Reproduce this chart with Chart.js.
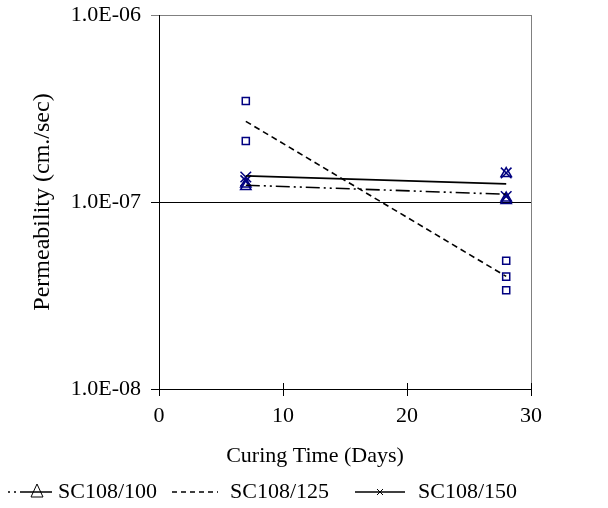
<!DOCTYPE html>
<html>
<head>
<meta charset="utf-8">
<script src="https://cdn.jsdelivr.net/npm/chart.js@4.4.1/dist/chart.umd.min.js"></script>
<style>
  html, body { margin: 0; padding: 0; background: #fff; }
</style>
</head>
<body>
<canvas id="chart" width="608" height="508"></canvas>
<script>
const seriesNames = ['SC108/100', 'SC108/125', 'SC108/150']

// measured points: curing time (days) / permeability (cm/sec)
const sc100Days = [7, 7, 28, 28, 28]
const sc100Perm = [1.25e-7, 1.21e-7, 1.42e-7, 1.05e-7, 1.02e-7]
const sc125Days = [7, 7, 28, 28, 28]
const sc125Perm = [3.47e-7, 2.12e-7, 4.85e-8, 3.99e-8, 3.37e-8]
const sc150Days = [7, 7, 28, 28]
const sc150Perm = [1.36e-7, 1.30e-7, 1.43e-7, 1.07e-7]

// trend line end points
const trendDays = [7, 28]
const trend100 = [1.23e-7, 1.10e-7]
const trend125 = [2.70e-7, 4.0e-8]
const trend150 = [1.38e-7, 1.25e-7]

const xTicks = [0, 10, 20, 30]
const yTicks = [1e-8, 1e-7, 1e-6]
const yTickLabels = ['1.0E-08', '1.0E-07', '1.0E-06']
const xTitle = 'Curing Time (Days)'
const yTitle = 'Permeability (cm./sec)'

const serif = '"Liberation Serif", "Times New Roman", serif'
const navy = '#000080'
const grey = '#808080'
const dashDotDot = [14, 4, 2, 4, 2, 4]
const dashed = [6, 4]

const toPoints = (xs, ys) => xs.map((x, i) => ({ x, y: ys[i] }))

function trendSet(label, ys, dash) {
	return {
		label,
		data: toPoints(trendDays, ys),
		showLine: true,
		borderColor: '#000',
		borderWidth: 1.6,
		borderDash: dash,
		pointRadius: 0
	}
}

function markerSet(label, xs, ys, style, radius) {
	return {
		label,
		data: toPoints(xs, ys),
		showLine: false,
		pointStyle: style,
		pointRadius: radius,
		pointBorderColor: navy,
		pointBackgroundColor: 'rgba(0,0,0,0)',
		pointBorderWidth: 1.5
	}
}

// legend drawn by hand so each entry can show line style + marker
const legendRow = [
	{ dash: [2, 4, 2, 4, 32, 4], marker: 'triangle', x0: 8, x1: 52, mx: 37, textX: 58 },
	{ dash: [5, 4], marker: null, x0: 172, x1: 218, mx: 195, textX: 230 },
	{ dash: [], marker: 'cross', x0: 355, x1: 405, mx: 380, textX: 418 }
]
const legendY = 492

const legendAndTicks = {
	id: 'legendAndTicks',
	afterDraw(chart) {
		const ctx = chart.ctx
		const xs = chart.scales.x
		const bottom = chart.chartArea.bottom
		ctx.save()
		// x tick marks cross the axis: inner half
		ctx.strokeStyle = '#000'
		ctx.lineWidth = 1
		xs.ticks.forEach(t => {
			const px = Math.round(xs.getPixelForValue(t.value)) + 0.5
			ctx.beginPath()
			ctx.moveTo(px, bottom - 6)
			ctx.lineTo(px, bottom)
			ctx.stroke()
		})

		ctx.fillStyle = '#000'
		ctx.font = '22px ' + serif
		ctx.textBaseline = 'middle'
		ctx.textAlign = 'center'
		ctx.fillText(xTitle, 315, 456)

		legendRow.forEach((item, i) => {
			ctx.strokeStyle = '#000'
			ctx.lineWidth = 1.5
			ctx.setLineDash(item.dash)
			ctx.beginPath()
			ctx.moveTo(item.x0, legendY)
			ctx.lineTo(item.x1, legendY)
			ctx.stroke()
			ctx.setLineDash([])
			const cx = item.mx
			ctx.lineWidth = 1
			if (item.marker === 'triangle') {
				ctx.fillStyle = '#fff'
				ctx.beginPath()
				ctx.moveTo(cx, legendY - 8)
				ctx.lineTo(cx + 6, legendY + 5)
				ctx.lineTo(cx - 6, legendY + 5)
				ctx.closePath()
				ctx.stroke()
			} else if (item.marker === 'cross') {
				ctx.beginPath()
				ctx.moveTo(cx - 3, legendY - 3)
				ctx.lineTo(cx + 3, legendY + 3)
				ctx.moveTo(cx + 3, legendY - 3)
				ctx.lineTo(cx - 3, legendY + 3)
				ctx.stroke()
			}
			ctx.fillStyle = '#000'
			ctx.font = '22px ' + serif
			ctx.textBaseline = 'middle'
			ctx.textAlign = 'left'
			ctx.fillText(seriesNames[i], item.textX, legendY)
		})
		ctx.restore()
	}
}

const config = {
	type: 'scatter',
	data: {
		datasets: [
			trendSet(seriesNames[0] + ' trend', trend100, dashDotDot),
			trendSet(seriesNames[1] + ' trend', trend125, dashed),
			trendSet(seriesNames[2] + ' trend', trend150, []),
			markerSet(seriesNames[0], sc100Days, sc100Perm, 'triangle', 6),
			markerSet(seriesNames[1], sc125Days, sc125Perm, 'rect', 5),
			markerSet(seriesNames[2], sc150Days, sc150Perm, 'crossRot', 7.5)
		]
	},
	options: {
		responsive: false,
		animation: false,
		layout: { padding: { top: 15, left: 0, right: 0, bottom: 0 } },
		plugins: {
			legend: { display: false },
			tooltip: { enabled: false }
		},
		scales: {
			x: {
				type: 'linear',
				min: 0,
				max: 30,
				afterBuildTicks: s => { s.ticks = xTicks.map(v => ({ value: v })) },
				afterFit: s => { s.height = 119 },
				border: { color: '#000', width: 1 },
				grid: {
					drawOnChartArea: true,
					color: c => (c.tick && c.tick.value === 30 ? grey : 'rgba(0,0,0,0)'),
					tickColor: '#000',
					tickLength: 7
				},
				ticks: {
					color: '#000',
					padding: 7,
					maxRotation: 0,
					font: { family: serif, size: 22 }
				}
			},
			y: {
				type: 'logarithmic',
				min: 1e-8,
				max: 1e-6,
				afterBuildTicks: s => { s.ticks = yTicks.map(v => ({ value: v })) },
				afterFit: s => { s.width = 159; s.paddingTop = 0; s.paddingBottom = 0 },
				border: { color: '#000', width: 1 },
				grid: {
					color: c => (c.tick && c.tick.value === 1e-6 ? grey : '#000'),
					tickLength: 8
				},
				ticks: {
					color: '#000',
					padding: 10,
					font: { family: serif, size: 22 },
					callback: (v) => yTickLabels[yTicks.indexOf(v)] || ''
				},
				title: {
					display: true,
					text: yTitle,
					color: '#000',
					font: { family: serif, size: 24 },
					padding: { top: 28, bottom: 4 }
				}
			},
			// empty right-hand axis, only reserves the gap right of the plot
			y2: {
				type: 'linear',
				position: 'right',
				afterFit: s => { s.width = 77; s.paddingTop = 0; s.paddingBottom = 0 },
				border: { display: false },
				grid: { display: false },
				ticks: { display: false }
			}
		}
	},
	plugins: [legendAndTicks]
}

new Chart(document.getElementById('chart'), config)
</script>
</body>
</html>
